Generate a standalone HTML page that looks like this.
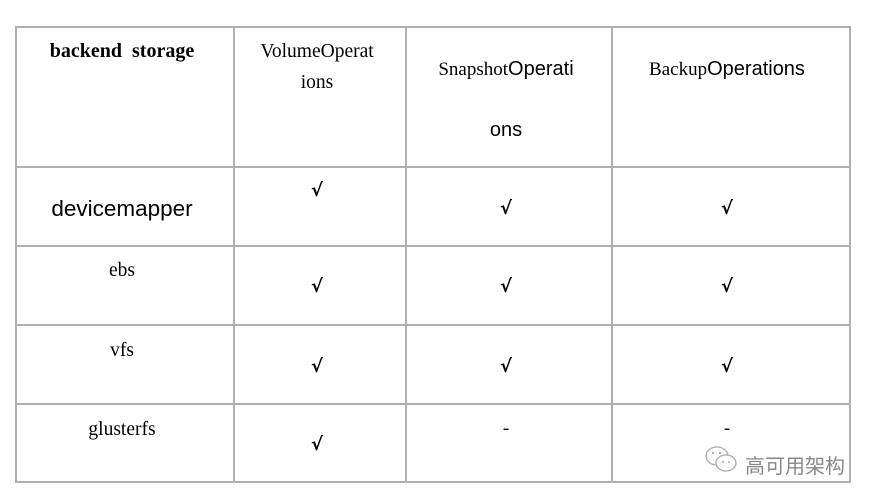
<!DOCTYPE html>
<html><head><meta charset="utf-8"><style>
body{margin:0;width:878px;height:500px;background:#fff;position:relative;overflow:hidden;font-family:"Liberation Serif",serif;color:#000}
.l{position:absolute;background:#b0b0b0}
.t{position:absolute;white-space:nowrap;transform:translateX(-50%)}
.s{font-family:"Liberation Sans","DejaVu Sans",sans-serif}
.c{font-weight:bold;font-family:"DejaVu Sans",sans-serif;font-size:18px}
</style></head><body>
<div class="l" style="left:15px;top:26px;width:836px;height:2px"></div>
<div class="l" style="left:15px;top:166px;width:836px;height:2px"></div>
<div class="l" style="left:15px;top:245px;width:836px;height:2px"></div>
<div class="l" style="left:15px;top:324px;width:836px;height:2px"></div>
<div class="l" style="left:15px;top:403px;width:836px;height:2px"></div>
<div class="l" style="left:15px;top:481px;width:836px;height:2px"></div>
<div class="l" style="left:15px;top:26px;width:2px;height:457px"></div>
<div class="l" style="left:233px;top:26px;width:2px;height:457px"></div>
<div class="l" style="left:405px;top:26px;width:2px;height:457px"></div>
<div class="l" style="left:611px;top:26px;width:2px;height:457px"></div>
<div class="l" style="left:849px;top:26px;width:2px;height:457px"></div>

<div class="t" style="left:122px;top:40px;font-size:20px;font-weight:bold">backend&nbsp; storage</div>
<div class="t" style="left:317px;top:41px;font-size:19.5px">VolumeOperat</div>
<div class="t" style="left:317px;top:72px;font-size:19.5px">ions</div>
<div class="t" style="left:506px;top:58px;font-size:19px">Snapshot<span class="s" style="font-size:20px">Operati</span></div>
<div class="t s" style="left:506px;top:119px;font-size:20px">ons</div>
<div class="t" style="left:727px;top:58px;font-size:19px">Backup<span class="s" style="font-size:20px">Operations</span></div>

<div class="t s" style="left:122px;top:196px;font-size:22.5px">devicemapper</div>
<div class="t" style="left:122px;top:260px;font-size:19.5px">ebs</div>
<div class="t" style="left:122px;top:340px;font-size:19.5px">vfs</div>
<div class="t" style="left:122px;top:419px;font-size:19.5px">glusterfs</div>

<div class="t c" style="left:317px;top:180px">√</div>
<div class="t c" style="left:506px;top:198px">√</div>
<div class="t c" style="left:727px;top:198px">√</div>
<div class="t c" style="left:317px;top:276px">√</div>
<div class="t c" style="left:506px;top:276px">√</div>
<div class="t c" style="left:727px;top:276px">√</div>
<div class="t c" style="left:317px;top:356px">√</div>
<div class="t c" style="left:506px;top:356px">√</div>
<div class="t c" style="left:727px;top:356px">√</div>
<div class="t c" style="left:317px;top:434px">√</div>
<div class="t" style="left:506px;top:418px;font-size:19px">-</div>
<div class="t" style="left:727px;top:418px;font-size:19px">-</div>

<svg style="position:absolute;left:703px;top:444px" width="38" height="32" viewBox="0 0 38 32">
<ellipse cx="14" cy="12" rx="11" ry="9" fill="none" stroke="#aaa" stroke-width="1.3"/>
<ellipse cx="23" cy="19" rx="10" ry="8" fill="#fff" stroke="#aaa" stroke-width="1.3"/>
<circle cx="10" cy="9" r="1.2" fill="#aaa"/><circle cx="17" cy="9" r="1.2" fill="#aaa"/>
<circle cx="20" cy="18" r="1" fill="#aaa"/><circle cx="26" cy="18" r="1" fill="#aaa"/>
</svg>
<div style="position:absolute;left:745px;top:450px;font-size:20px;color:#888;font-family:'Liberation Sans','Noto Sans CJK SC',sans-serif">高可用架构</div>
</body></html>
